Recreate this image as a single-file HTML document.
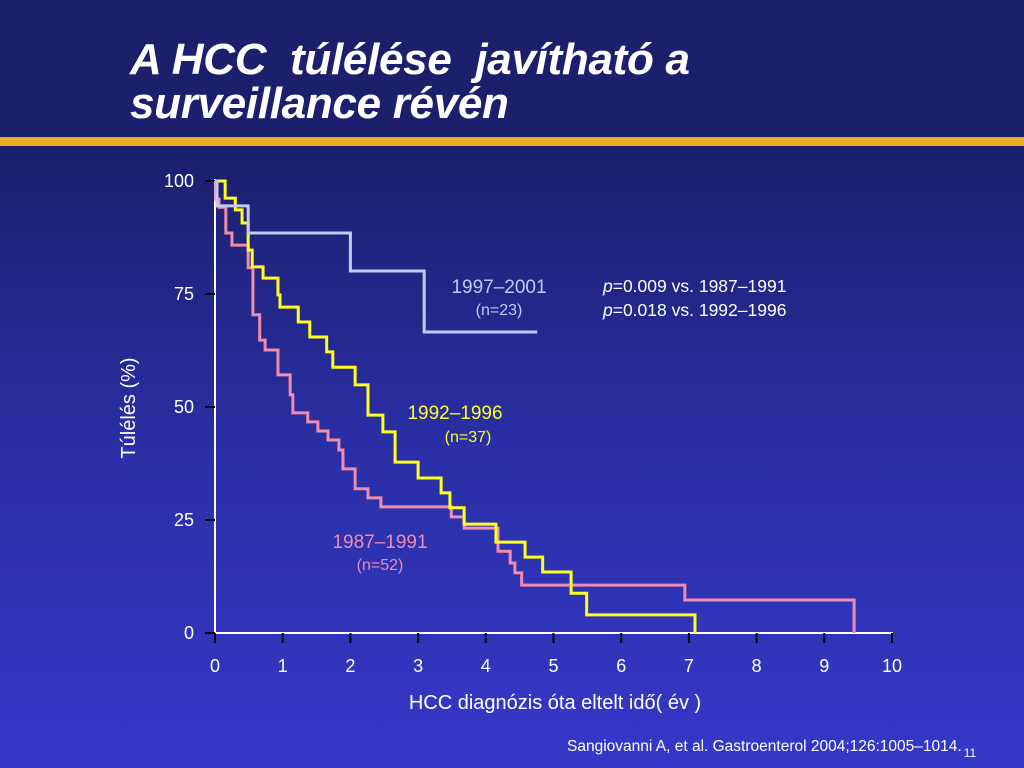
<!DOCTYPE html>
<html><head><meta charset="utf-8">
<style>
html,body{margin:0;padding:0;width:1024px;height:768px;overflow:hidden}
body{background:linear-gradient(180deg,#1c1f6c 0px,#1c1f6c 150px,#2a2fa6 450px,#3438c8 768px);font-family:"Liberation Sans",sans-serif;position:relative}
#title{position:absolute;left:130px;top:38px;color:#fff;font-style:italic;font-weight:bold;font-size:44px;line-height:44px;margin:0;letter-spacing:-0.3px}
#gold{position:absolute;left:0;top:137px;width:1024px;height:9px;background:#e8ac1c}
svg{position:absolute;left:0;top:0}
</style></head><body>
<h1 id="title">A HCC&nbsp; túlélése&nbsp; javítható a<br>surveillance révén</h1>
<div id="gold"></div>
<svg id="chart" width="1024" height="768"></svg>
<div style="position:absolute;left:567px;top:738px;color:#fff;font-size:15.5px">Sangiovanni A, et al. Gastroenterol 2004;126:1005–1014.<span style="font-size:12px;position:relative;top:6px;margin-left:2px">11</span></div>
<script>
const xTicks=[0,1,2,3,4,5,6,7,8,9,10];
const yTicks=[0,25,50,75,100];
const blueTimes=[0,0.03,0.49,2.0,3.09];
const blueSurv=[100,94.5,88.5,80.1,66.6];
const blueEnd=4.76;
const yellowTimes=[0,0.15,0.30,0.40,0.49,0.55,0.71,0.93,0.96,1.23,1.40,1.65,1.74,2.07,2.26,2.48,2.66,3.00,3.34,3.47,3.68,4.15,4.58,4.84,5.26,5.49,7.09];
const yellowSurv=[100,96.2,93.6,90.7,84.7,81.0,78.5,74.8,72.1,68.8,65.5,62.2,58.8,54.9,48.2,44.5,37.8,34.3,31.0,27.7,24.1,20.1,16.8,13.5,8.8,4.0,0];
const yellowEnd=7.09;
const pinkTimes=[0,0.01,0.06,0.16,0.25,0.49,0.56,0.66,0.74,0.93,1.11,1.15,1.37,1.52,1.67,1.83,1.89,2.07,2.26,2.45,3.49,3.68,4.18,4.36,4.43,4.53,6.94,9.44];
const pinkSurv=[100,96.0,94.2,88.5,85.8,80.8,70.4,64.8,62.6,57.1,52.7,48.7,46.7,44.7,42.7,40.5,36.3,31.9,29.9,27.9,25.7,23.2,18.1,15.5,13.3,10.6,7.3,0];
const pinkEnd=9.44;
const X0=215,X1=892,Y0=633,Y1=181;
const sx=t=>X0+(X1-X0)*t/10, sy=v=>Y0-(Y0-Y1)*v/100;
const svg=document.getElementById('chart'),NS='http://www.w3.org/2000/svg';
function mk(tag,at,txt){const e=document.createElementNS(NS,tag);for(const k in at)e.setAttribute(k,at[k]);if(txt!==undefined)e.textContent=txt;svg.appendChild(e);return e;}
let e;
e=mk('line',{x1:X0,y1:Y1-2,x2:X0,y2:Y0+1,stroke:'#fff','stroke-width':2});


e=mk('line',{x1:X0-1,y1:Y0,x2:X1+1,y2:Y0,stroke:'#fff','stroke-width':2});


yTicks.forEach(v=>{
 e=mk('line',{x1:X0-10,y1:sy(v),x2:X0,y2:sy(v),stroke:'#000','stroke-width':2});
 
 
 e=mk('text',{x:X0-21,y:sy(v)+6,fill:'#fff','font-size':18,'text-anchor':'end','font-family':'Liberation Sans'},v);
 
 
});
xTicks.forEach(v=>{
 e=mk('line',{x1:sx(v),y1:Y0,x2:sx(v),y2:Y0+10,stroke:'#000','stroke-width':2});
 
 
 e=mk('text',{x:sx(v),y:Y0+39,fill:'#fff','font-size':18,'text-anchor':'middle','font-family':'Liberation Sans'},v);
 
 
});
e=mk('text',{x:555,y:709,fill:'#fff','font-size':20,'text-anchor':'middle','font-family':'Liberation Sans'},'HCC diagnózis óta eltelt idő( év )');


e=mk('text',{x:0,y:0,fill:'#fff','font-size':20,'text-anchor':'middle','font-family':'Liberation Sans',transform:'translate(135,408) rotate(-90)'},'Túlélés (%)');


function step(times,surv,end){
 let d='M'+sx(times[0])+','+sy(surv[0]);
 for(let i=1;i<times.length;i++){d+=' H'+sx(times[i])+' V'+sy(surv[i]);}
 if(sx(end)>sx(times[times.length-1]))d+=' H'+sx(end);
 return d;
}
e=mk('path',{d:step(pinkTimes,pinkSurv,pinkEnd),fill:'none',stroke:'#f08cac','stroke-width':3});


e=mk('path',{d:step(yellowTimes,yellowSurv,yellowEnd),fill:'none',stroke:'#ffff1e','stroke-width':3});


e=mk('path',{d:step(blueTimes,blueSurv,blueEnd),fill:'none',stroke:'#c4c8f4','stroke-width':3});


const labels=[['1997–2001',499,293,19,'#c4c8f4','label-1997-2001'],['(n=23)',499,315,16,'#c4c8f4','n-1997-2001'],
['1992–1996',455,419,19,'#ffff1e','label-1992-1996'],['(n=37)',468,442,16,'#ffff1e','n-1992-1996'],
['1987–1991',380,548,19,'#f08cac','label-1987-1991'],['(n=52)',380,570,16,'#f08cac','n-1987-1991']];
labels.forEach(l=>{e=mk('text',{x:l[1],y:l[2],fill:l[4],'font-size':l[3],'text-anchor':'middle','font-family':'Liberation Sans'},l[0]);
 
 });
[['0.009 vs. 1987–1991',292,'p-value-1'],['0.018 vs. 1992–1996',316,'p-value-2']].forEach(p=>{
 e=mk('text',{x:603,y:p[1],fill:'#fff','font-size':17.5,'font-family':'Liberation Sans'});
 
 
 const a=document.createElementNS(NS,'tspan');a.setAttribute('font-style','italic');a.textContent='p';e.appendChild(a);
 const b=document.createElementNS(NS,'tspan');b.textContent='='+p[0];e.appendChild(b);
});
</script>
</body></html>
